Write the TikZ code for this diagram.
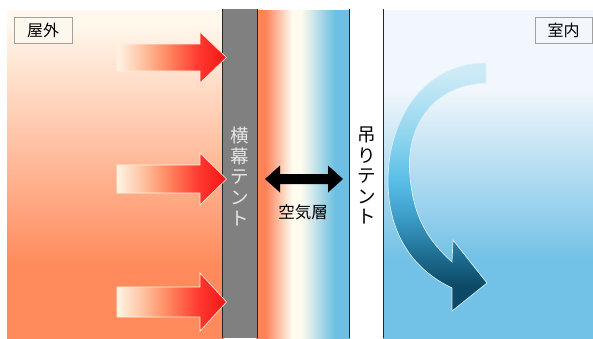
\documentclass[tikz,border=0pt]{standalone}
\usepackage{fontspec}
\newfontfamily\cjk{Noto Sans CJK JP}
\definecolor{crm}{HTML}{FFF8EC}
\definecolor{orng}{HTML}{FF8A5B}
\definecolor{skyb}{HTML}{72C1E6}
\definecolor{paleb}{HTML}{F1F7FC}
\definecolor{gaporng}{HTML}{FF8259}
\definecolor{gapcrm}{HTML}{FFFBEE}
\definecolor{gapblu}{HTML}{6DBFE3}
\definecolor{rA}{HTML}{FFF4E4}
\definecolor{rB}{HTML}{FFC9AA}
\definecolor{rC}{HTML}{FF8E66}
\definecolor{rD}{HTML}{FF3A30}
\definecolor{rE}{HTML}{F01414}
\definecolor{bA}{HTML}{CDEBF6}
\definecolor{bB}{HTML}{8ED4EF}
\definecolor{bC}{HTML}{58BDE6}
\definecolor{bD}{HTML}{3C9DC8}
\definecolor{bE}{HTML}{1D6C90}
\definecolor{bF}{HTML}{0D4966}
\definecolor{wallgray}{HTML}{808080}
\definecolor{wallfont}{HTML}{E6E6E6}
\definecolor{boxline}{HTML}{A0A0A0}
\definecolor{boxcrm}{HTML}{FDF8EE}
\pgfdeclareverticalshading{outsidesh}{100bp}{color(0bp)=(orng); color(36bp)=(orng); color(73bp)=(crm); color(100bp)=(crm)}
\pgfdeclareverticalshading{insidesh}{100bp}{color(0bp)=(skyb); color(37bp)=(skyb); color(63bp)=(paleb); color(100bp)=(paleb)}
\pgfdeclarehorizontalshading{gapsh}{100bp}{color(0bp)=(gaporng); color(30bp)=(gaporng); color(44bp)=(gapcrm); color(49bp)=(gapcrm); color(67bp)=(gapblu); color(100bp)=(gapblu)}
\pgfdeclarehorizontalshading{redsh}{100bp}{color(0bp)=(rA); color(25bp)=(rA); color(35bp)=(rB); color(47bp)=(rC); color(62bp)=(rD); color(75bp)=(rE); color(100bp)=(rE)}
\pgfdeclareverticalshading{bluesh}{100bp}{color(0bp)=(bF); color(30bp)=(bF); color(36bp)=(bE); color(44bp)=(bD); color(51bp)=(bC); color(60bp)=(bB); color(73bp)=(bA); color(100bp)=(bA)}
\begin{document}
\begin{tikzpicture}[x=1pt,y=-1pt,
  wallbox/.style={inner sep=0pt, minimum width=34pt, minimum height=329pt},
  wallline/.style={draw=black!85, line width=1.3pt},
  vtext/.style={font=\cjk\fontsize{18.5}{20.5}\selectfont, align=center, inner sep=0pt},
  lbl/.style={draw=boxline, line width=0.6pt, font=\cjk\fontsize{16}{18}\selectfont, inner sep=0pt, minimum width=58pt, minimum height=26pt},
  redarrow/.style={shading=redsh, draw=rA!80!orange!40, line width=0.6pt},
  bluearrow/.style={shading=bluesh, draw=bA!70!white, line width=0.7pt}]
\useasboundingbox (0,0) rectangle (593,338);
\fill[white] (0,0) rectangle (593,338);
% regions
\shade[shading=outsidesh] (7,10) rectangle (224,338);
\shade[shading=gapsh] (256,10) rectangle (350,338);
\shade[shading=insidesh] (383,10) rectangle (593,338);
% walls
\node[wallbox, fill=wallgray] (wallA) at (240,173.5) {};
\draw[wallline] (wallA.north west) -- (wallA.south west);
\draw[wallline] (wallA.north east) -- (wallA.south east);
\node[wallbox, fill=white] (wallB) at (366.5,173.5) {};
\draw[wallline] (wallB.north west) -- (wallB.south west);
\draw[wallline] (wallB.north east) -- (wallB.south east);
% wall labels
\node[vtext, text=wallfont] (lblA) at (240,176.5) {横\\幕\\テ\\ン\\ト};
\node[vtext, text=black] (lblB) at (366.5,175.5) {吊\\り\\テ\\ン\\ト};
% air layer
\node[font=\cjk\fontsize{16.5}{18}\selectfont, inner sep=0pt] (air) at (303,212) {空気層};
\fill[black] (265,179) -- (280,165.5) -- (280,174) -- (328,174) -- (328,165.5) -- (343,179)
  -- (328,192.5) -- (328,184) -- (280,184) -- (280,192.5) -- cycle;
% corner labels
\node[lbl, fill=boxcrm] (outside) at (43,30) {屋外};
\node[lbl, fill=paleb, minimum width=57pt] (inside) at (563.5,30.5) {室内};
% red arrows
\foreach \yc/\sh/\hh in {57.5/13.5/25.5, 179/14/26, 302/15/29}{
  \shade[redarrow] (117,\yc-\sh) -- (200,\yc-\sh) -- (200,\yc-\hh) -- (226.5,\yc)
    -- (200,\yc+\hh) -- (200,\yc+\sh) -- (117,\yc+\sh) -- cycle;
}
% blue curved arrow
\shade[bluearrow] (486,63) -- (486,83)
  .. controls (430,85) and (405,130) .. (410,177)
  .. controls (414,220) and (430,242) .. (452,262)
  -- (453,240) -- (487,283) -- (452,311) -- (452,288)
  .. controls (410,268) and (387,230) .. (388,177)
  .. controls (390,110) and (430,63) .. cycle;
\end{tikzpicture}
\end{document}
